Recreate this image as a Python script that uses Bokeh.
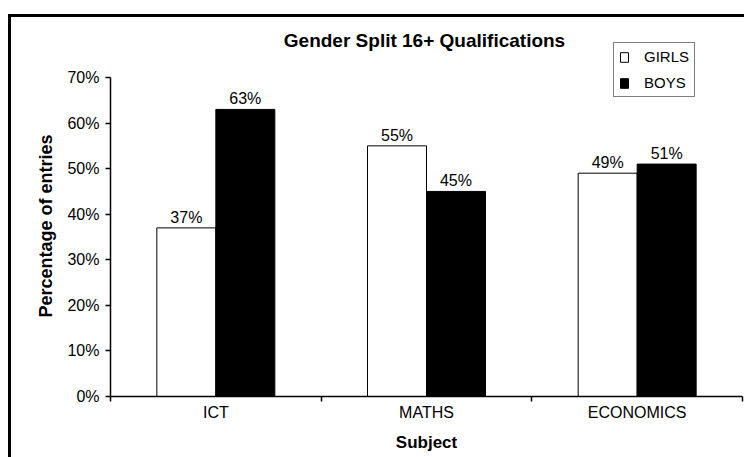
from bokeh.plotting import figure
from bokeh.models import (Range1d, FixedTicker, LinearAxis, Legend, LegendItem,
                          ColumnDataSource, LabelSet, Label, Title, PrintfTickFormatter)
from bokeh.core.properties import value
from bokeh.embed import file_html
from bokeh.resources import INLINE

# ---- data ----
subjects = ["ICT", "MATHS", "ECONOMICS"]
girls = [37, 55, 49]
boys = [63, 45, 51]
y_ticks = [0, 10, 20, 30, 40, 50, 60, 70]
title_text = "Gender Split 16+ Qualifications"
x_title = "Subject"
y_title = "Percentage of entries"

FONT = "Liberation Sans"

n = len(subjects)
centers = [i + 0.5 for i in range(n)]
bw = 0.28
girls_x = [c - bw / 2 for c in centers]
boys_x = [c + bw / 2 for c in centers]

# layout (page pixels)
W, H = 744, 457
frame_left, frame_right = 110, 742
frame_top, frame_bottom = 20, 396
y_max_px = 77          # where the 70% tick sits
y_end = y_ticks[-1] * (frame_bottom - frame_top) / (frame_bottom - y_max_px)

p = figure(width=W, height=H, output_backend="svg", toolbar_location=None,
           x_range=Range1d(0, n), y_range=Range1d(0, y_end),
           min_border_left=frame_left, min_border_right=W - frame_right,
           min_border_top=frame_top, min_border_bottom=H - frame_bottom,
           x_axis_type=None, y_axis_type=None)
# outer frame lines (top and left) painted behind the transparent canvas border
p.styles = {
    "background-image": "linear-gradient(#000,#000), linear-gradient(#000,#000)",
    "background-size": "3px 443px, 736px 3px",
    "background-position": "8px 14px, 8px 14px",
    "background-repeat": "no-repeat",
}
p.outline_line_color = None
p.grid.visible = False
p.background_fill_color = "white"
p.border_fill_color = None

# title
p.add_layout(Label(x=(424 - frame_left), y=(frame_bottom - 40), x_units="screen",
                   y_units="screen", text=title_text, text_align="center",
                   text_baseline="middle", text_font=FONT, text_font_size="19px",
                   text_font_style="bold", text_color="black"))

# bars
src_g = ColumnDataSource(dict(x=girls_x, top=girls, lab=[f"{v}%" for v in girls]))
src_b = ColumnDataSource(dict(x=boys_x, top=boys, lab=[f"{v}%" for v in boys]))
rg = p.vbar(x="x", top="top", width=bw, bottom=0, source=src_g,
            fill_color="white", line_color="black", line_width=1)
rb = p.vbar(x="x", top="top", width=bw, bottom=0, source=src_b,
            fill_color="black", line_color="black", line_width=1)

for src in (src_g, src_b):
    p.add_layout(LabelSet(x="x", y="top", text="lab", source=src,
                          text_align="center", text_baseline="bottom",
                          y_offset=2, text_font=value(FONT),
                          text_font_size=value("16px"),
                          text_color="black"))

# x axis
xax = LinearAxis(ticker=FixedTicker(ticks=centers, minor_ticks=list(range(n + 1))))
xax.major_label_overrides = {c: s for c, s in zip(centers, subjects)}
xax.major_tick_line_color = None
xax.major_tick_out = 0
xax.major_tick_in = 0
xax.minor_tick_out = 5
xax.minor_tick_in = 0
xax.minor_tick_line_color = "black"
xax.minor_tick_line_width = 1.5
xax.axis_line_width = 1.5
xax.axis_line_color = "black"
xax.major_label_standoff = 2
xax.major_label_text_font = FONT
xax.major_label_text_font_size = "16px"
xax.major_label_text_color = "black"
xax.axis_label = x_title
xax.axis_label_text_font = FONT
xax.axis_label_text_font_size = "17px"
xax.axis_label_text_font_style = "bold"
xax.axis_label_text_color = "black"
xax.axis_label_standoff = 9
p.add_layout(xax, "below")

# y axis
yax = LinearAxis(ticker=FixedTicker(ticks=y_ticks, minor_ticks=[]),
                 formatter=PrintfTickFormatter(format="%d%%"),
                 bounds=(y_ticks[0], y_ticks[-1]))
yax.major_tick_out = 5
yax.major_tick_in = 0
yax.major_tick_line_width = 1.5
yax.minor_tick_line_color = None
yax.axis_line_width = 1.5
yax.axis_line_color = "black"
yax.major_label_standoff = 6
yax.major_label_text_font = FONT
yax.major_label_text_font_size = "16px"
yax.major_label_text_color = "black"
p.add_layout(yax, "left")

# y axis title, centred on the 0-70% span rather than the whole frame
p.add_layout(Title(text=y_title, align="left", offset=frame_bottom - 317,
                   text_font=FONT, text_font_size="18px", text_font_style="bold",
                   text_color="black", standoff=17), "left")

# legend
legend = Legend(items=[LegendItem(label="GIRLS", renderers=[rg]),
                       LegendItem(label="BOYS", renderers=[rb])],
                location=(613 - frame_left, frame_bottom - 97), orientation="vertical",
                glyph_width=10, glyph_height=12, label_height=16,
                label_standoff=15, spacing=9, padding=5, margin=0,
                label_text_font=FONT, label_text_font_size="15px",
                label_text_color="black", border_line_color="black",
                border_line_width=1.5, background_fill_color="white",
                background_fill_alpha=1.0)
p.add_layout(legend, "center")

open("out.html", "w").write(file_html(p, INLINE))
